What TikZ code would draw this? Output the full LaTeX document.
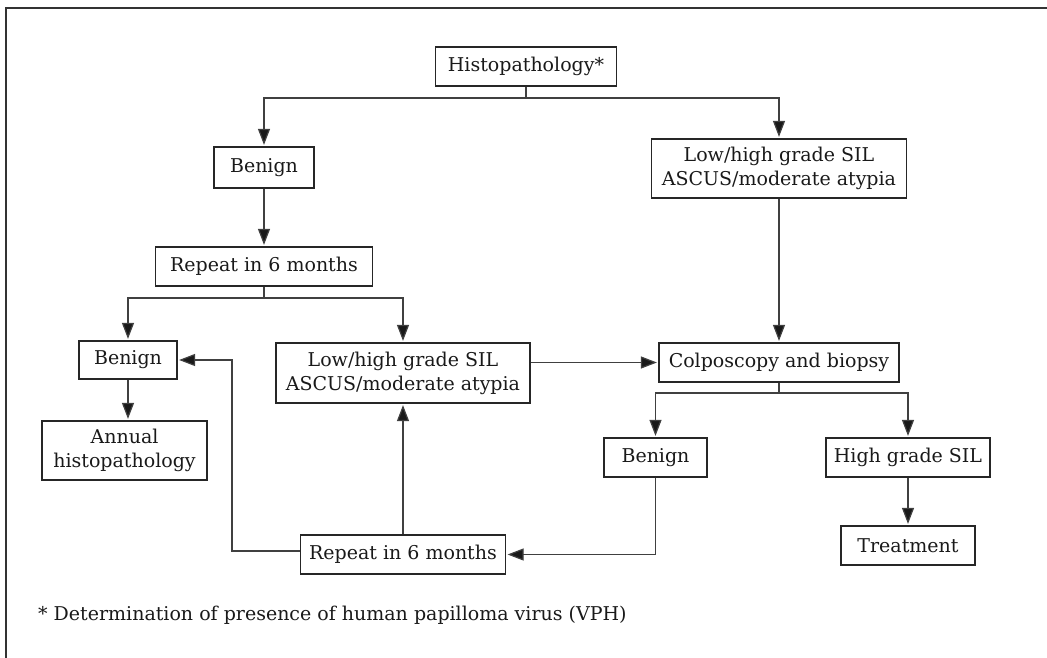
\documentclass[tikz,border=0pt]{standalone}
\usepackage{fontspec}
\setmainfont{DejaVu Serif}
\usetikzlibrary{arrows.meta}
\begin{document}
\begin{tikzpicture}[x=1pt,y=-1pt,
  box/.style={draw=black!85,line width=1.2pt,inner sep=0pt,align=center,
    font=\fontsize{19}{24}\selectfont,text=black!90},
  conn/.style={draw=black!75,line width=1.2pt},
  arr/.style={conn,-{Triangle[width=12pt,length=16pt,fill=black!90]},shorten >=1.5pt}]
\useasboundingbox (0,0) rectangle (1047,658);
\draw[line width=1.6pt,black!80] (6,658) -- (6,8) -- (1047,8);
% nodes
\node[box,minimum width=181pt,minimum height=39pt] (histo) at (526,66.5) {Histopathology*};
\node[box,minimum width=100pt,minimum height=41pt] (benA) at (264,167.5) {Benign};
\node[box,minimum width=255pt,minimum height=59pt] (silR) at (779,168.5) {Low/high grade SIL\\ASCUS/moderate atypia};
\node[box,minimum width=217pt,minimum height=39pt] (repA) at (264,266.5) {Repeat in 6 months};
\node[box,minimum width=98pt,minimum height=38pt] (benB) at (128,360) {Benign};
\node[box,minimum width=165pt,minimum height=59pt] (annual) at (124.5,450.5) {Annual\\histopathology};
\node[box,minimum width=254pt,minimum height=60pt] (silM) at (403,373) {Low/high grade SIL\\ASCUS/moderate atypia};
\node[box,minimum width=240pt,minimum height=39pt] (colpo) at (779,362.5) {Colposcopy and biopsy};
\node[box,minimum width=103pt,minimum height=39pt] (benC) at (655.5,457.5) {Benign};
\node[box,minimum width=164pt,minimum height=39pt] (high) at (908,457.5) {High grade SIL};
\node[box,minimum width=134pt,minimum height=39pt] (treat) at (908,545.5) {Treatment};
\node[box,minimum width=205pt,minimum height=39pt] (repB) at (403,554.5) {Repeat in 6 months};
\node[anchor=west,inner sep=0pt,font=\fontsize{19}{24}\selectfont,text=black!90] (foot) at (38,615) {* Determination of presence of human papilloma virus (VPH)};
% junctions
\coordinate (j1) at (526,98);
\coordinate (j2) at (264,298);
\coordinate (j3) at (779,393);
\coordinate (lp) at (232,551);
% connectors
\draw[conn] (histo.south) -- (j1);
\draw[arr] (j1) -| (benA.north);
\draw[arr] (j1) -| (silR.north);
\draw[arr] (benA.south) -- (repA.north);
\draw[conn] (repA.south) -- (j2);
\draw[arr] (j2) -| (benB.north);
\draw[arr] (j2) -| (silM.north);
\draw[arr] (benB.south) -- (benB.south |- annual.north);
\draw[arr] (silR.south) -- (colpo.north);
\draw[arr] (colpo.west -| silM.east) -- (colpo.west);
\draw[conn] (colpo.south) -- (j3);
\draw[arr] (j3) -| (benC.north);
\draw[arr] (j3) -| (high.north);
\draw[arr] (high.south) -- (treat.north);
\draw[arr] (benC.south) |- (repB.east);
\draw[arr] (repB.north) -- (silM.south);
\draw[arr] (repB.west |- lp) -- (lp) |- (benB.east);
\end{tikzpicture}
\end{document}
